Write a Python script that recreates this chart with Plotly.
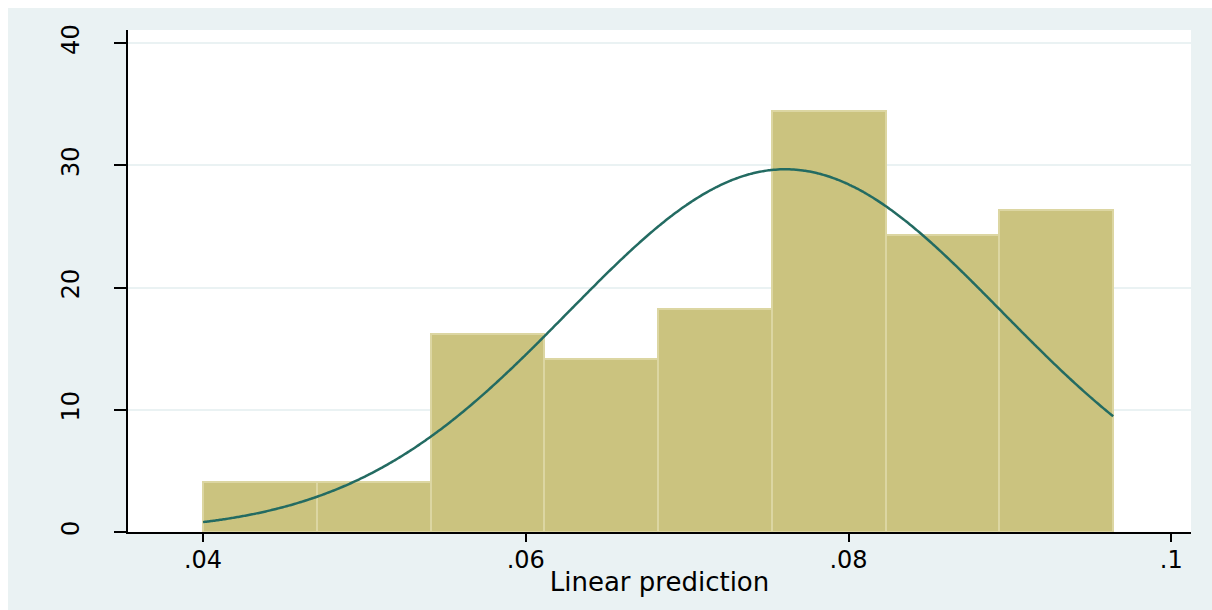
import numpy as np
import plotly.graph_objects as go

# Histogram of the linear prediction (density scale), 8 equal-width bins
bin_start = 0.0400
bin_width = 0.00705
density = [4.06, 4.06, 16.22, 14.19, 18.25, 34.47, 24.33, 26.36]

# Normal curve overlay parameters
norm_mean = 0.07608
norm_sd = 0.01344

x_tickvals = [0.04, 0.06, 0.08, 0.10]
x_ticktext = [".04", ".06", ".08", ".1"]
y_tickvals = [0, 10, 20, 30, 40]
y_ticktext = ["0", "10", "20", "30", "40"]

bar_fill = "#cbc37f"
bar_edge = "#dcd6a2"
curve_color = "#236b62"
region_bg = "#eaf2f3"

n_bins = len(density)
bin_centers = [bin_start + bin_width * (i + 0.5) for i in range(n_bins)]
bin_end = bin_start + bin_width * n_bins

xs = np.linspace(bin_start, bin_end, 400)
ys = np.exp(-0.5 * ((xs - norm_mean) / norm_sd) ** 2) / (norm_sd * np.sqrt(2 * np.pi))

fig = go.Figure()
fig.add_trace(go.Bar(
    x=bin_centers, y=density, width=bin_width,
    marker=dict(color=bar_fill, line=dict(color=bar_edge, width=2)),
    showlegend=False, hoverinfo="skip",
))
fig.add_trace(go.Scatter(
    x=xs, y=ys, mode="lines", line_shape="spline",
    line=dict(color=curve_color, width=2.5),
    showlegend=False, hoverinfo="skip",
))

font_family = "DejaVu Sans"

fig.update_layout(
    width=1212, height=610,
    margin=dict(l=128, r=21, t=30, b=78, pad=0),
    paper_bgcolor=region_bg,
    plot_bgcolor="white",
    bargap=0,
    font=dict(family=font_family, color="black"),
    shapes=[
        # thin white strips around the graph region
        dict(type="rect", xref="paper", yref="paper", layer="below",
             x0=-0.2, x1=1.1, y0=(531.7 - 8) / 501.7, y1=1.2,
             fillcolor="white", line=dict(width=0)),
        dict(type="rect", xref="paper", yref="paper", layer="below",
             x0=-0.2, x1=(8 - 128) / 1063, y0=-0.3, y1=1.2,
             fillcolor="white", line=dict(width=0)),
    ],
)

fig.update_xaxes(
    range=[0.03535, 0.10122],
    tickvals=x_tickvals, ticktext=x_ticktext,
    ticks="outside", ticklen=8, tickwidth=1.5, tickcolor="black",
    ticklabelstandoff=-3,
    showline=True, linecolor="black", linewidth=1.5,
    showgrid=False, zeroline=False,
    tickfont=dict(size=24, family=font_family, color="black"),
    title=dict(text="Linear prediction", standoff=0,
               font=dict(size=26, family=font_family, color="black")),
)
fig.update_yaxes(
    range=[0, 41.08],
    tickvals=y_tickvals, ticktext=y_ticktext,
    tickangle=-90,
    ticks="outside", ticklen=12, tickwidth=1.5, tickcolor="black",
    ticklabelstandoff=26,
    showline=True, linecolor="black", linewidth=1.5,
    showgrid=True, gridcolor=region_bg, gridwidth=2,
    zeroline=False,
    tickfont=dict(size=24, family=font_family, color="black"),
)

fig.write_html("out.html")
